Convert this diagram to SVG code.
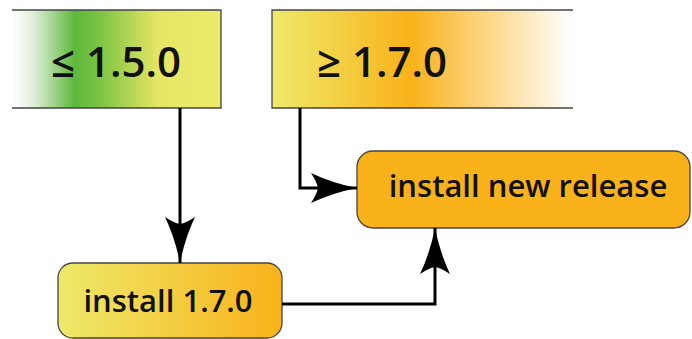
<svg xmlns="http://www.w3.org/2000/svg" width="692" height="339" viewBox="0 0 692 339">
<style>
.t{font-family:"Open Sans","Noto Sans","DejaVu Sans",sans-serif;fill:#111;font-weight:600}
.big{font-size:42px}
.mid{font-size:31px}
.c{fill:none;stroke:#000;stroke-width:3}
.b{stroke:#444;stroke-width:1.3}
</style>
<defs>
<linearGradient id="g1" x1="0" x2="1" y1="0" y2="0">
<stop offset="0" stop-color="#ffffff"/>
<stop offset="0.1" stop-color="#e3f0dc"/>
<stop offset="0.3" stop-color="#5cb83c"/>
<stop offset="0.42" stop-color="#7cc444"/>
<stop offset="0.7" stop-color="#e6e665"/>
<stop offset="1" stop-color="#eeea6a"/>
</linearGradient>
<linearGradient id="g2" x1="0" x2="1" y1="0" y2="0">
<stop offset="0" stop-color="#eeea6a"/>
<stop offset="0.46" stop-color="#f9b21a"/>
<stop offset="1" stop-color="#ffffff"/>
</linearGradient>
<linearGradient id="g3" x1="0" x2="1" y1="0" y2="0">
<stop offset="0" stop-color="#eeea6a"/>
<stop offset="1" stop-color="#f9b21a"/>
</linearGradient>
<marker id="ah" markerUnits="userSpaceOnUse" markerWidth="60" markerHeight="40" viewBox="-50 -20 60 40" refX="0" refY="0" orient="auto">
<path d="M0,0 Q-25,-5 -46,-15 Q-40,-6 -39,0 Q-40,6 -46,15 Q-25,5 0,0 Z" fill="#000"/>
</marker>
</defs>
<g id="node-le150">
<rect x="12" y="10" width="209" height="98" fill="url(#g1)"/>
<path d="M12,10 H221 V108 H12" fill="none" class="b"/>
<text class="t big" x="116" y="77" text-anchor="middle">≤ 1.5.0</text>
</g>
<g id="node-ge170">
<rect x="272" y="10" width="301" height="98" fill="url(#g2)"/>
<path d="M573,10 H272 V108 H573" fill="none" class="b"/>
<text class="t big" x="382" y="77" text-anchor="middle">≥ 1.7.0</text>
</g>
<g id="node-new">
<rect x="357" y="151" width="333" height="77" rx="16" fill="#f9b21a" class="b"/>
<text class="t mid" x="528" y="197" text-anchor="middle">install new release</text>
</g>
<g id="node-install170">
<rect x="58" y="263" width="224" height="75" rx="15" fill="url(#g3)" class="b"/>
<text class="t mid" x="168" y="312" text-anchor="middle">install 1.7.0</text>
</g>
<g id="connectors">
<path class="c" d="M180,108 V263" marker-end="url(#ah)"/>
<path class="c" d="M300,108 V188 H357" marker-end="url(#ah)"/>
<path class="c" d="M282,304 H435 V228" marker-end="url(#ah)"/>
</g>
</svg>
